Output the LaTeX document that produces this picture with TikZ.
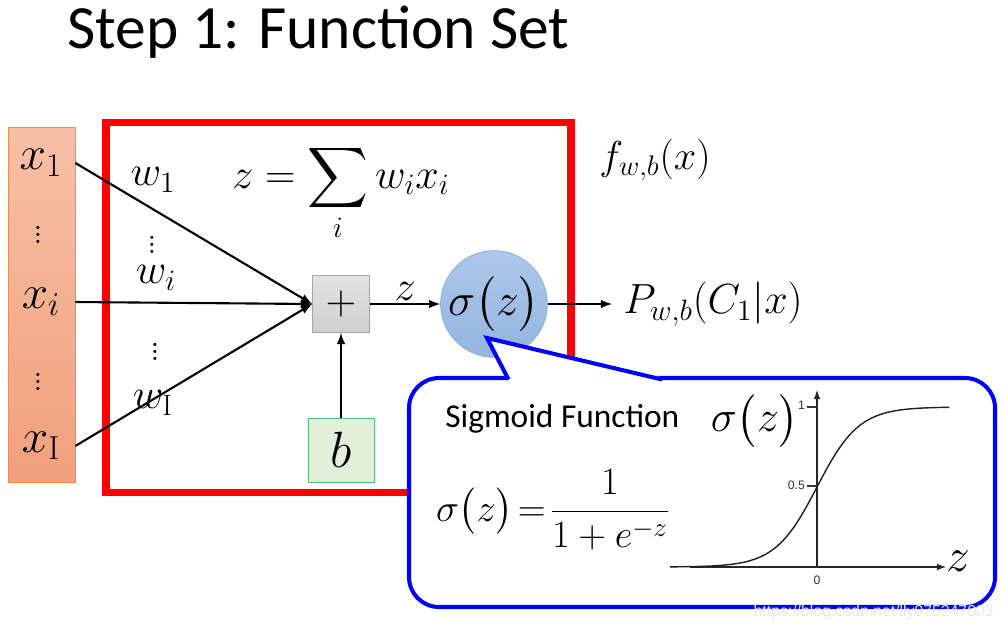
\documentclass[tikz,border=0pt]{standalone}
\usepackage{fix-cm}
\usepackage{amsmath}
\usepackage{amssymb}
\usepackage{fontspec}
\usepackage{tikz}
\newfontfamily\slidefont{Carlito}
\newfontfamily\tickfont{Liberation Sans}
\definecolor{inTop}{RGB}{247,192,166}
\definecolor{inBot}{RGB}{241,160,124}
\definecolor{inLine}{RGB}{240,140,80}
\definecolor{bFill}{RGB}{226,240,217}
\definecolor{bLine}{RGB}{90,190,115}
\definecolor{sigTop}{RGB}{172,199,233}
\definecolor{sigBot}{RGB}{148,181,224}
\definecolor{sigLine}{RGB}{135,172,218}
\definecolor{calloutBlue}{RGB}{0,0,255}

\begin{document}
\begin{tikzpicture}[x=0.02cm,y=-0.02cm,
	inbox/.style={rectangle,draw=inLine,top color=inTop,bottom color=inBot,
		minimum width=1.34cm,minimum height=7.1cm,inner sep=0pt},
	opbox/.style={rectangle,draw=gray!70,top color=gray!22,bottom color=gray!38,
		minimum size=1.14cm,inner sep=0pt},
	biasbox/.style={rectangle,draw=bLine,fill=bFill,
		minimum width=1.32cm,minimum height=1.28cm,inner sep=0pt},
	sigcirc/.style={circle,draw=sigLine,top color=sigTop,bottom color=sigBot,
		minimum size=2.08cm,inner sep=0pt},
	arr/.style={->,>=latex,line width=1.2pt},
	callout/.style={calloutBlue,line width=2.3pt},
	big/.style={font=\fontsize{27}{29}\selectfont},
	mid/.style={font=\fontsize{24}{26}\selectfont},
	dots/.style={font=\fontsize{22}{24}\selectfont,inner sep=0pt}]
	\useasboundingbox (0,0) rectangle (1003,632);

	% title
	\node[anchor=base west,inner sep=0pt,font=\slidefont\fontsize{35}{38}\selectfont]
		(title) at (67,48) {Step 1: Function Set};

	% inputs
	\node[inbox] (inbox) at (41.5,304.5) {};
	\node[big] (x1) at (41,163) {$x_1$};
	\node[dots] (d1) at (38,230) {$\vdots$};
	\node[big] (xi) at (41,302) {$x_i$};
	\node[dots] (d2) at (38,377) {$\vdots$};
	\node[big] (xI) at (41,446) {$x_{\mathrm{I}}$};

	% the function box
	\draw[red,line width=4.5pt] (106,122.5) rectangle (571,492.5);

	\node[opbox,font=\fontsize{24}{26}\selectfont] (plus) at (341,304) {$+$};
	\node[biasbox,font=\fontsize{29}{31}\selectfont] (bias) at (341,450) {$b$};
	\node[sigcirc,font=\fontsize{26}{28}\selectfont] (sig) at (494,304) {$\sigma\bigl(z\bigr)$};

	\draw[arr] (inbox.east |- x1) -- (plus.west);
	\draw[arr] (inbox.east |- xi) -- (plus.west);
	\draw[arr] (inbox.east |- xI) -- (plus.west);
	\draw[arr] (bias.north) -- (plus.south);
	\draw[arr] (plus.east) -- node[above,mid,yshift=-2pt] (zlab) {$z$} (sig.west);
	\coordinate (pout) at (612,304);
	\draw[arr] (sig.east) -- (pout);

	\node[mid] (w1) at (153,180) {$w_1$};
	\node[dots] (d3) at (152,240) {$\vdots$};
	\node[mid] (wi) at (156,278) {$w_i$};
	\node[dots] (d4) at (155,347) {$\vdots$};
	\node[mid] (wI) at (153,403) {$w_{\mathrm{I}}$};

	\node[font=\fontsize{24}{26}\selectfont] (zsum) at (341,193) {$\displaystyle z=\sum_i w_i x_i$};
	\node[font=\fontsize{23}{25}\selectfont] (flab) at (655,160) {$f_{w,b}(x)$};
	\node[anchor=west,font=\fontsize{24}{26}\selectfont] (plab) at ([xshift=3pt]pout) {$P_{w,b}(C_1|x)$};

	% callout
	\draw[callout,fill=white,rounded corners=0.6cm] (409,378) rectangle (995,607);
	\fill[white] (487,338) -- (508,377) -- (508,381) -- (662,381) -- (660,377) -- cycle;
	\draw[callout,line join=miter] (508.5,379.5) -- (487,338) -- (662,379.5);

	\node[anchor=base west,inner sep=0pt,font=\slidefont\fontsize{19}{21}\selectfont]
		(sigtitle) at (445,427) {Sigmoid Function};
	\node[font=\fontsize{22}{24}\selectfont] (sigform) at (553,510)
		{$\displaystyle \sigma\bigl(z\bigr)\!=\!\frac{1}{1+e^{-z}}$};

	% sigmoid graph
	\draw[gray!30!black,line width=0.8pt,->,>=latex] (817,567) -- (817,390);
	\draw[gray!30!black,line width=0.8pt,->,>=latex] (690,567) -- (946,567);
	\draw[gray!40!black,line width=0.8pt] (807,407) -- (817,407);
	\draw[gray!40!black,line width=0.8pt] (807,486) -- (817,486);
	\draw[gray!25!black,line width=0.8pt,domain=-7:6.3,samples=80]
		plot ({817+21*\x},{567-160/(1+exp(-\x))});
	\node[anchor=east,inner sep=1pt,text=gray!40!black,font=\tickfont\fontsize{7}{8}\selectfont]
		(t1) at (807,405) {1};
	\node[anchor=east,inner sep=1pt,text=gray!40!black,font=\tickfont\fontsize{7}{8}\selectfont]
		(t05) at (807,485) {0.5};
	\node[text=gray!40!black,font=\tickfont\fontsize{7}{8}\selectfont] (t0) at (817,580) {0};
	\node[font=\fontsize{25}{27}\selectfont] (sigy) at (755,421) {$\sigma\bigl(z\bigr)$};
	\node[font=\fontsize{27}{29}\selectfont] (zx) at (958,561) {$z$};

	% watermark
	\node[anchor=east,inner sep=0pt,text=gray!18,font=\tickfont\fontsize{9}{11}\selectfont] (wm) at (994,612)
		{https://blog.csdn.net/lly975247003};
\end{tikzpicture}
\end{document}
